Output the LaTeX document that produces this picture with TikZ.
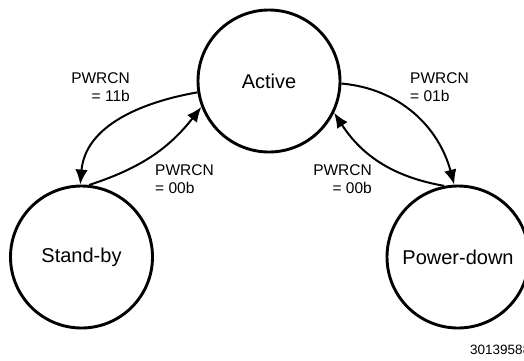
\documentclass[tikz,border=0pt]{standalone}
\usepackage{fontspec}
\setmainfont{Liberation Sans}
\usetikzlibrary{arrows.meta}
\begin{document}
\begin{tikzpicture}[x=1pt,y=-1pt,
  state/.style={circle,draw,line width=2.9pt,minimum size=142pt,inner sep=0pt,font=\fontsize{20}{24}\selectfont},
  trans/.style={line width=2pt,-{Latex[length=15pt,width=12.5pt]}},
  lbl/.style={inner sep=0pt,font=\fontsize{15.5}{18}\selectfont},
  fig/.style={inner sep=0pt,font=\fontsize{13.5}{16}\selectfont}]
\clip (0,0) rectangle (524,360);
\useasboundingbox (0,0) rectangle (524,360);
\node[state] (act) at (269,81) {Active};
\node[state] (sb) at (81.5,257) {Stand-by};
\node[state] (pd) at (458,257) {Power-down};
\draw[trans] (act.189) to[out=190,in=85] (sb.91);
\draw[trans] (sb.84) to[out=18,in=232] (act.201);
\draw[trans] (act.358) to[out=-5,in=105] (pd.93);
\draw[trans] (pd.101) to[out=170,in=-57] (act.-26);
\node[lbl,anchor=north east,align=right] (l1) at (130,72) {PWRCN\\= 11b};
\node[lbl,anchor=north west,align=left] (l2) at (155,164) {PWRCN\\= 00b};
\node[lbl,anchor=north west,align=left] (l3) at (410,72) {PWRCN\\= 01b};
\node[lbl,anchor=north east,align=right] (l4) at (372,164) {PWRCN\\= 00b};
\node[fig,anchor=base west] (fn) at (470,354) {30139588};
\end{tikzpicture}
\end{document}
